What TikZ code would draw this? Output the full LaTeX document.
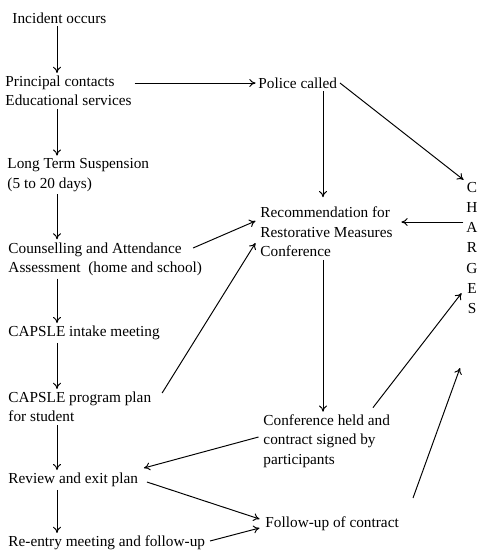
\documentclass[tikz,border=0pt]{standalone}
\usepackage{fontspec}
\setmainfont{Liberation Serif}
\newfontfamily\stagefont{Liberation Serif}
\usepackage{tikz}
\usetikzlibrary{calc}
\usetikzlibrary{positioning,arrows.meta}

\begin{document}
\begin{tikzpicture}[x=0.02cm,y=-0.02cm,
	stage/.style={anchor=west,align=left,inner sep=1.5pt,font=\stagefont\fontsize{8.7}{11}\selectfont},
	arr/.style={draw,line width=0.55pt,-{To[length=3.5pt,width=4.5pt]}}]
	\useasboundingbox (0,0) rectangle (483,551);
	\coordinate (colA) at (57,0);
	\coordinate (colB) at (323,0);
	% left column
	\node[stage] (incident) at (9.5,18) {Incident occurs};
	\node[stage] (principal) at (2.5,91) {Principal contacts\\Educational services};
	\node[stage] (suspension) at (4.5,175) {Long Term Suspension\\(5 to 20 days)};
	\node[stage] (counsel) at (5.5,259) {Counselling and Attendance\\Assessment \ (home and school)};
	\node[stage] (intake) at (5.5,333) {CAPSLE intake meeting};
	\node[stage] (plan) at (5.5,407) {CAPSLE program plan\\for student};
	\node[stage] (review) at (5.5,480) {Review and exit plan};
	\node[stage] (reentry) at (5.5,543) {Re-entry meeting and follow-up};
	% right column
	\node[stage] (police) at (255.5,83) {Police called};
	\node[stage] (recommend) at (257.5,232) {Recommendation for\\Restorative Measures\\Conference};
	\node[stage] (conference) at (260.5,441) {Conference held and\\contract signed by\\participants};
	\node[stage] (followup) at (262.5,524) {Follow-up of contract};
	\node[stage,anchor=center,align=center,font=\stagefont\fontsize{8.7}{11.4}\selectfont] (charges) at (472,248) {C\\H\\A\\R\\G\\E\\S};
	\coordinate (loose) at (413,498);
	\coordinate (looseEnd) at (460,368);
	% spine
	\draw[arr] (incident.south -| colA) -- (principal.north -| colA);
	\draw[arr] (principal.south -| colA) -- (suspension.north -| colA);
	\draw[arr] (suspension.south -| colA) -- (counsel.north -| colA);
	\draw[arr] (counsel.south -| colA) -- (intake.north -| colA);
	\draw[arr] (intake.south -| colA) -- (plan.north -| colA);
	\draw[arr] (plan.south -| colA) -- (review.north -| colA);
	\draw[arr] (review.south -| colA) -- (reentry.north -| colA);
	% cross links
	\draw[arr] (principal.east |- police.west) -- (police.west);
	\draw[arr,shorten >=4pt] (police.south -| colB) -- (recommend.north -| colB);
	\draw[arr] (police.east) -- (charges.north west);
	\draw[arr] ($(charges.west)+(0,-26)$) coordinate (chA) -- ($(recommend.east |- chA)+(6,0)$);
	\draw[arr] ($(counsel.east)+(-12,-11)$) -- ($(recommend.west)+(-2,-11)$);
	\draw[arr] ($(plan.east)+(8,-14)$) -- ($(recommend.west)+(-2,11)$);
	\draw[arr] (recommend.south -| colB) -- (conference.north -| colB);
	\draw[arr] ($(conference.north east)+(-20,-4)$) -- ($(charges.south west)+(-2,-23)$);
	\draw[arr] ($(conference.west)+(-2,-4)$) -- ($(review.east)+(3,-12)$);
	\draw[arr] ($(review.east)+(6,2)$) -- ($(followup.west)+(-3,-5)$);
	\draw[arr] ($(reentry.east)+(2,-2)$) -- ($(followup.west)+(-3,4)$);
	\draw[arr] (loose) -- (looseEnd);
\end{tikzpicture}
\end{document}
